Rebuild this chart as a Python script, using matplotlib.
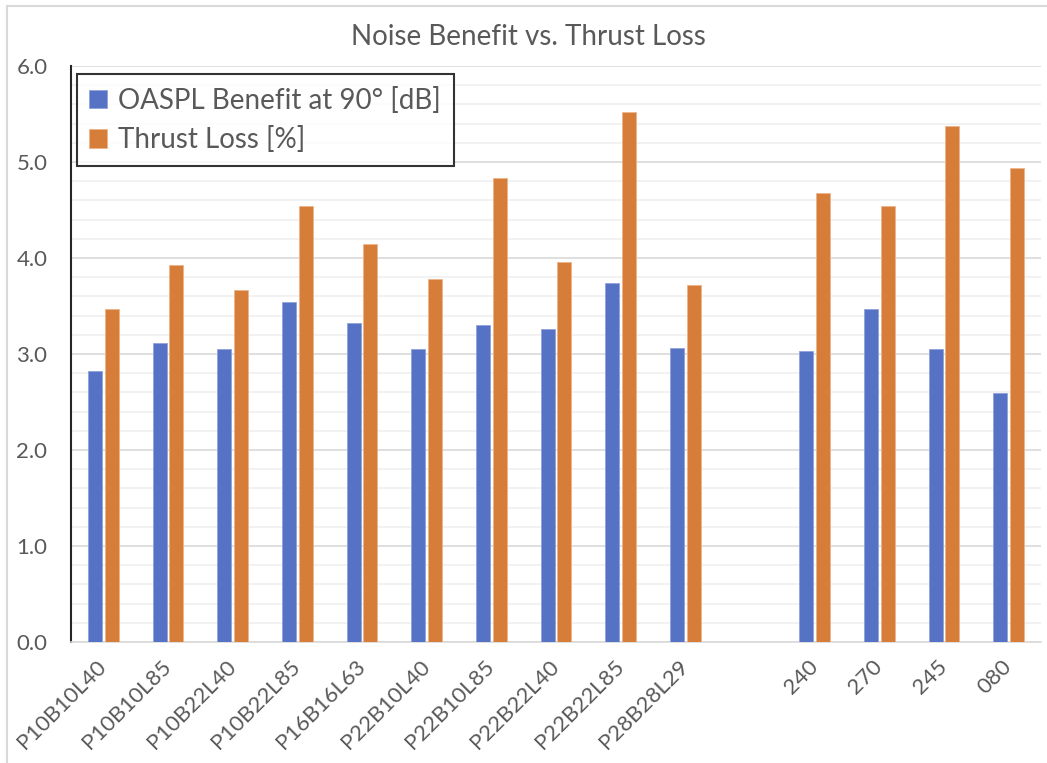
import numpy as np
import matplotlib.pyplot as plt
from matplotlib.lines import Line2D
from matplotlib.ticker import MultipleLocator

plt.rcParams['font.family'] = ['Lato', 'DejaVu Sans']

categories = ['P10B10L40', 'P10B10L85', 'P10B22L40', 'P10B22L85', 'P16B16L63',
              'P22B10L40', 'P22B10L85', 'P22B22L40', 'P22B22L85', 'P28B28L29',
              '', '240', '270', '245', '080']
oaspl_benefit = [2.82, 3.11, 3.05, 3.54, 3.32, 3.05, 3.30, 3.26, 3.74, 3.06,
                 np.nan, 3.03, 3.47, 3.05, 2.59]
thrust_loss = [3.47, 3.93, 3.67, 4.54, 4.15, 3.78, 4.83, 3.96, 5.52, 3.72,
               np.nan, 4.68, 4.54, 5.37, 4.94]

blue = '#5572C4'
orange = '#D67D3A'
text_col = '#595959'

fig = plt.figure(figsize=(10.47, 7.63), dpi=100)
ax = fig.add_axes([0.0678, 0.1586, 0.9265, 0.7549])

x = np.arange(len(categories))
w = 0.215
ax.bar(x - 0.13, oaspl_benefit, w, color=blue, edgecolor='#8FA3DA', linewidth=0.6,
       label='OASPL Benefit at 90° [dB]', zorder=3)
ax.bar(x + 0.13, thrust_loss, w, color=orange, edgecolor='#EDB48A', linewidth=0.6,
       label='Thrust Loss [%]', zorder=3)

ax.set_xlim(-0.5, len(categories) - 0.5)
ax.set_ylim(0, 6)
ax.yaxis.set_major_locator(MultipleLocator(1.0))
ax.yaxis.set_minor_locator(MultipleLocator(0.2))
ax.yaxis.set_major_formatter(lambda v, p: f'{v:.1f}')
ax.grid(axis='y', which='major', color='#D9D9D9', linewidth=1.2, zorder=0)
ax.grid(axis='y', which='minor', color='#F0F0F0', linewidth=1.2, zorder=0)
ax.set_axisbelow(True)

for s in ['top', 'right']:
    ax.spines[s].set_visible(False)
ax.spines['left'].set_color('#262626')
ax.spines['left'].set_linewidth(1.5)
ax.spines['bottom'].set_color('#D9D9D9')
ax.spines['bottom'].set_linewidth(1.2)

ax.tick_params(axis='y', which='both', length=0, pad=17, labelsize=16, labelcolor=text_col)
ax.tick_params(axis='x', length=0, pad=8, labelsize=16, labelcolor=text_col)
ax.set_xticks(x)
ax.set_xticklabels(categories, rotation=45, ha='right', va='center', rotation_mode='anchor')
for lab in ax.get_xticklabels():
    lab.set_y(-0.018)

fig.text(0.5045, 0.951, 'Noise Benefit vs. Thrust Loss', ha='center', va='center',
         fontsize=20, color=text_col)

leg = ax.legend(loc='upper left', bbox_to_anchor=(0.006, 0.986), fontsize=20,
                frameon=True, fancybox=False, edgecolor='black', borderaxespad=0,
                handlelength=0.65, handleheight=0.65, handletextpad=0.4,
                labelspacing=0.45, borderpad=0.45)
leg.get_frame().set_linewidth(1.5)
for t in leg.get_texts():
    t.set_color(text_col)

# light chart-area border on top and left
fig.add_artist(Line2D([7 / 1047, 7 / 1047], [0, 1 - 6 / 763], transform=fig.transFigure,
                      color='#D9D9D9', linewidth=1.5))
fig.add_artist(Line2D([7 / 1047, 1], [1 - 6 / 763, 1 - 6 / 763], transform=fig.transFigure,
                      color='#D9D9D9', linewidth=1.5))

fig.savefig('out.png', dpi=100)
